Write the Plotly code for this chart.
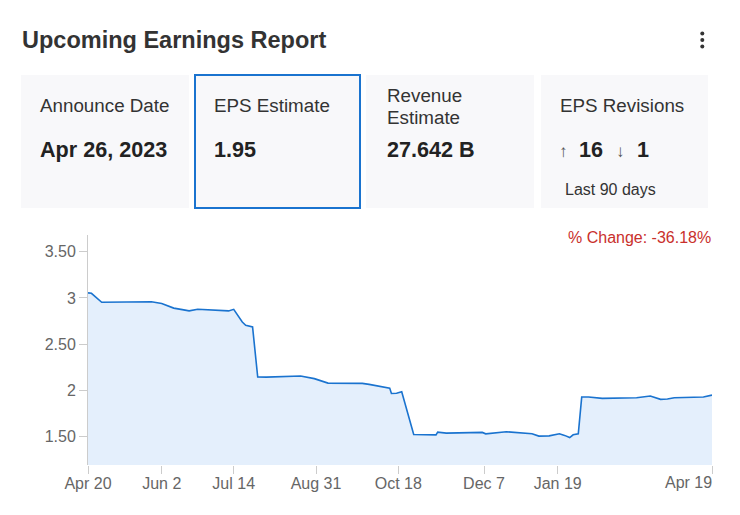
import plotly.graph_objects as go

# EPS estimate history
dates = ["2022-04-20", "2022-04-22", "2022-04-28", "2022-05-09", "2022-05-27",
         "2022-06-02", "2022-06-09", "2022-06-14", "2022-06-18", "2022-06-23",
         "2022-07-01", "2022-07-11", "2022-07-14", "2022-07-19", "2022-07-21",
         "2022-07-25", "2022-07-28", "2022-08-02", "2022-08-22", "2022-08-30",
         "2022-09-07", "2022-09-27", "2022-10-01", "2022-10-13", "2022-10-14",
         "2022-10-17", "2022-10-20", "2022-10-27", "2022-11-09", "2022-11-10",
         "2022-11-15", "2022-12-06", "2022-12-08", "2022-12-20", "2023-01-04",
         "2023-01-08", "2023-01-14", "2023-01-20", "2023-01-23", "2023-01-26",
         "2023-01-28", "2023-01-31", "2023-02-02", "2023-02-06", "2023-02-14",
         "2023-03-06", "2023-03-14", "2023-03-20", "2023-03-24", "2023-03-28",
         "2023-04-14", "2023-04-19"]
eps = [3.055, 3.05, 2.953, 2.953, 2.958,
       2.94, 2.89, 2.874, 2.86, 2.877,
       2.872, 2.86, 2.877, 2.74, 2.705,
       2.686, 2.145, 2.144, 2.156, 2.128,
       2.08, 2.077, 2.066, 2.026, 1.968,
       1.97, 1.987, 1.525, 1.521, 1.55,
       1.539, 1.547, 1.532, 1.554, 1.532,
       1.507, 1.51, 1.532, 1.515, 1.492,
       1.521, 1.532, 1.929, 1.929, 1.915,
       1.922, 1.94, 1.904, 1.908, 1.922,
       1.929, 1.95]

x_tick_dates = ["2022-04-20", "2022-06-02", "2022-07-14", "2022-08-31",
                "2022-10-18", "2022-12-07", "2023-01-19", "2023-04-19"]
x_tick_text = ["Apr 20", "Jun 2", "Jul 14", "Aug 31", "Oct 18", "Dec 7", "Jan 19", "Apr 19"]
y_tick_vals = [1.5, 2, 2.5, 3, 3.5]
y_tick_text = ["1.50", "2", "2.50", "3", "3.50"]

# summary cards
card_labels = ["Announce Date", "EPS Estimate", "Revenue<br>Estimate", "EPS Revisions"]
card_values = ["Apr 26, 2023", "1.95", "27.642 B", None]
revisions_up, revisions_down = 16, 1
pct_change = -36.18

# the page puts the plot 8px in from the top-left corner
OFF = 8
W, H = 740 - OFF, 515 - OFF
L, R, T, B = 88 - OFF, 28, 235 - OFF, 50
FONT = "Arial, 'Liberation Sans', sans-serif"


def px(x):
    # window pixel -> paper fraction
    return (x - OFF - L) / (W - L - R)


def py(y):
    return (H - B - (y - OFF)) / (H - T - B)


fig = go.Figure()
fig.add_trace(go.Scatter(x=dates, y=eps, mode="lines", fill="tozeroy",
                         fillcolor="rgb(228,239,252)",
                         line=dict(color="#1a73cf", width=1.6),
                         hoverinfo="x+y"))

shapes = []
annotations = []


def text(x, y, s, size, color="#333333", bold=False, xanchor="left"):
    annotations.append(dict(x=px(x), y=py(y), xref="paper", yref="paper",
                            text="<b>%s</b>" % s if bold else s, showarrow=False,
                            xanchor=xanchor, yanchor="middle", align="left",
                            font=dict(family=FONT, size=size, color=color)))


# right-hand grey strip of the page
shapes.append(dict(type="rect", xref="paper", yref="paper", layer="below",
                   x0=px(732), x1=px(741), y0=py(516), y1=py(0),
                   fillcolor="#f4f4f6", line=dict(width=0)))

# card backgrounds
card_x = [(21, 189), (195, 360), (366, 534), (541, 708)]
for i, (x0, x1) in enumerate(card_x):
    shapes.append(dict(type="rect", xref="paper", yref="paper", layer="below",
                       x0=px(x0), x1=px(x1), y0=py(208), y1=py(75),
                       fillcolor="#f8f8fa",
                       line=dict(width=2 if i == 1 else 0, color="#1a73cf")))

# kebab menu dots
for cy in (33.5, 40, 46.5):
    shapes.append(dict(type="circle", xref="paper", yref="paper",
                       x0=px(700.3), x1=px(704.3), y0=py(cy + 2), y1=py(cy - 2),
                       fillcolor="#333333", line=dict(width=0)))

fig.update_layout(shapes=shapes)

text(20, 40, "Upcoming Earnings Report", 23.5, "#333333", bold=True)

text(38, 106, card_labels[0], 18.8)
text(38, 149, card_values[0], 21.6, "#222222", bold=True)
text(212, 106, card_labels[1], 18.8)
text(212, 149, card_values[1], 21.6, "#222222", bold=True)
text(385, 96, "Revenue", 18.8)
text(385, 117, "Estimate", 18.8)
text(385, 149, card_values[2], 21.6, "#222222", bold=True)
text(558, 106, card_labels[3], 18.8)
text(557, 151, "\u2191", 17, "#555555")
text(577, 149, str(revisions_up), 21.6, "#222222", bold=True)
text(614, 151, "\u2193", 17, "#555555")
text(635, 149, str(revisions_down), 21.6, "#222222", bold=True)
text(563, 189, "Last 90 days", 16)

text(713, 237, "%% Change: %.2f%%" % pct_change, 16, "#c9302c", xanchor="right")

# last date label sits right-aligned at the plot edge
text(714, 482, x_tick_text[-1], 16, "#666666", xanchor="right")
axis_text = x_tick_text[:-1] + [""]

fig.update_layout(
    width=W, height=H,
    margin=dict(l=L, r=R, t=T, b=B),
    paper_bgcolor="white", plot_bgcolor="white",
    showlegend=False,
    font=dict(family=FONT, color="#666666"),
    annotations=annotations,
    xaxis=dict(range=["2022-04-20", "2023-04-19"], tickmode="array",
               tickvals=x_tick_dates, ticktext=axis_text,
               ticks="outside", ticklen=8, tickcolor="#cccccc",
               showgrid=False, zeroline=False, showline=False,
               ticklabelstandoff=-4,
               tickfont=dict(size=16, color="#666666")),
    yaxis=dict(range=[1.195, 3.68], tickmode="array",
               tickvals=y_tick_vals, ticktext=y_tick_text,
               ticks="outside", ticklen=8, tickcolor="#cccccc",
               showgrid=False, zeroline=False,
               showline=True, linecolor="#cccccc", linewidth=1,
               tickfont=dict(size=16, color="#666666")),
)

fig.write_html("out.html")
